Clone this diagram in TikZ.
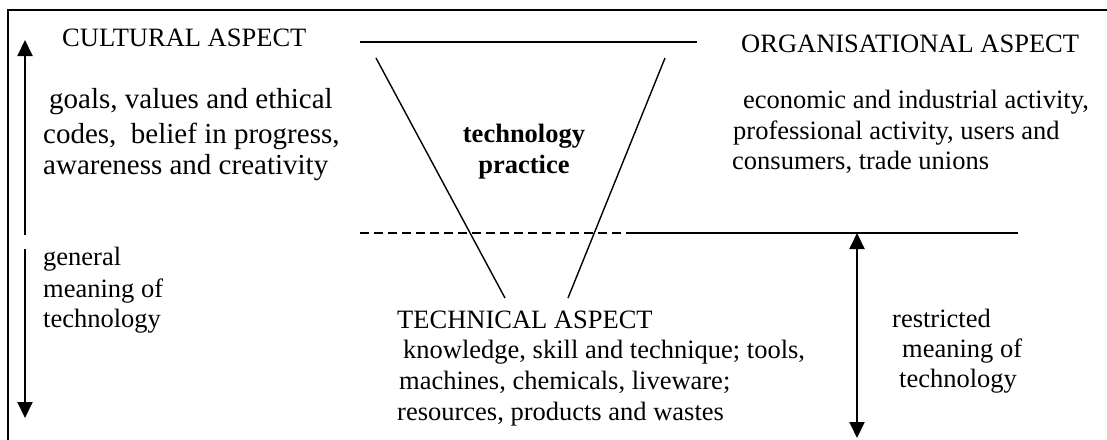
\documentclass[tikz,border=0pt]{standalone}
\usepackage{fontspec}
\setmainfont{Liberation Serif}
\usetikzlibrary{arrows.meta}
\begin{document}
\begin{tikzpicture}[x=1pt,y=-1pt,
  txt/.style={anchor=base west,inner sep=0pt,font=\fontsize{26.5}{31}\selectfont},
  bigtxt/.style={txt,font=\fontsize{29}{34}\selectfont},
  thin line/.style={line width=1.4pt},
  frame line/.style={line width=2.2pt},
  arr/.style={line width=2pt,-{Triangle[width=15pt,length=16pt]}},
  darr/.style={line width=2pt,{Triangle[width=15pt,length=16pt]}-{Triangle[width=15pt,length=16pt]}}]
\useasboundingbox (0,0) rectangle (1107,439);
% frame
\draw[frame line] (8,445) -- (8,10) -- (1115,10);
% left arrows
\coordinate (lu0) at (25,235); \coordinate (lu1) at (25,40);
\coordinate (ld0) at (25,249); \coordinate (ld1) at (25,418);
\draw[arr] (lu0) -- (lu1);
\draw[arr] (ld0) -- (ld1);
% funnel
\coordinate (t0) at (360,42); \coordinate (t1) at (697,42);
\draw[thin line] (t0) -- (t1);
\coordinate (l0) at (376,58); \coordinate (l1) at (505,298);
\coordinate (r0) at (665,58); \coordinate (r1) at (568,298);
\draw[thin line] (l0) -- (l1);
\draw[thin line] (r0) -- (r1);
% dashed and solid line
\coordinate (d0) at (360,233); \coordinate (d1) at (632,233); \coordinate (d2) at (1018,233);
\draw[thin line,dash pattern=on 9pt off 5pt] (d0) -- (d1);
\draw[thin line] (d1) -- (d2);
% right double arrow
\coordinate (ra0) at (857,233); \coordinate (ra1) at (857,438);
\draw[darr] (ra0) -- (ra1);
% texts
\node[txt] (cult) at (62,46) {CULTURAL ASPECT};
\node[bigtxt] (c1) at (49,108) {goals, values and ethical};
\node[bigtxt] (c2) at (43,143) {codes,\ \ belief in progress,};
\node[bigtxt] (c3) at (43,174) {awareness and creativity};
\node[txt] (org) at (741,52) {ORGANISATIONAL ASPECT};
\node[txt] (o1) at (743,108) {economic and industrial activity,};
\node[txt] (o2) at (733,139) {professional activity, users and};
\node[txt] (o3) at (732,169) {consumers, trade unions};
\node[txt,anchor=base,font=\fontsize{26.5}{31}\selectfont\bfseries] (tp1) at (524,142) {technology};
\node[txt,anchor=base,font=\fontsize{26.5}{31}\selectfont\bfseries] (tp2) at (524,173) {practice};
\node[txt] (gm1) at (43,265) {general};
\node[txt] (gm2) at (43,297) {meaning of};
\node[txt] (gm3) at (43,327) {technology};
\node[txt] (tech) at (397,328) {TECHNICAL ASPECT};
\node[txt] (t1) at (403,358) {knowledge, skill and technique; tools,};
\node[txt] (t2) at (399,389) {machines, chemicals, liveware;};
\node[txt] (t3) at (397,420) {resources, products and wastes};
\node[txt] (rm1) at (892,327) {restricted};
\node[txt] (rm2) at (902,357) {meaning of};
\node[txt] (rm3) at (899,387) {technology};
\end{tikzpicture}
\end{document}
